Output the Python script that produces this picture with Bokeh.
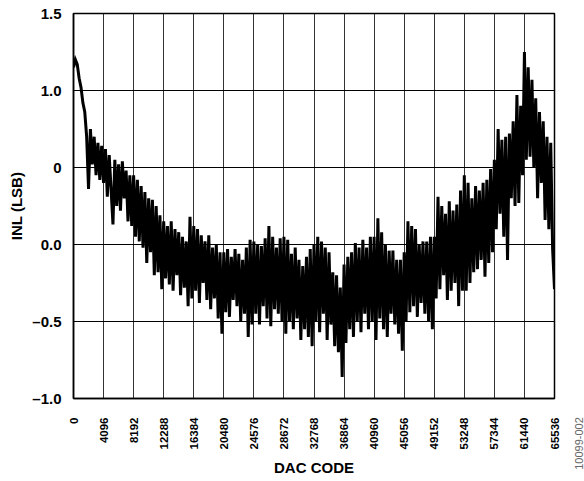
import math
from bokeh.plotting import figure
from bokeh.models import FixedTicker, Range1d, Label
from bokeh.layouts import row
from bokeh.embed import file_html
from bokeh.resources import INLINE

# DAC code step between samples and INL samples (LSB)
code_step = 256
inl = [
    # 0 .. 4096
    1.15, 1.20, 1.17, 1.08, 1.02, 0.92, 0.86, 0.70, 0.36, 0.75, 0.52, 0.70, 0.45, 0.66, 0.42, 0.64,
    # 4096 .. 8192
    0.40, 0.62, 0.31, 0.58, 0.36, 0.13, 0.55, 0.25, 0.52, 0.22, 0.54, 0.30, 0.48, 0.15, 0.45, 0.12,
    # 8192 .. 12288
    0.45, 0.05, 0.42, 0.02, 0.38, -0.02, 0.34, -0.12, 0.30, -0.05, 0.29, -0.20, 0.25, -0.18, 0.19, -0.29,
    # 12288 .. 16384
    0.15, -0.22, 0.12, -0.26, 0.15, -0.30, 0.10, -0.20, 0.08, -0.33, 0.05, -0.28, 0.02, -0.40, 0.18, -0.35,
    # 16384 .. 20480
    0.12, -0.30, 0.10, -0.38, 0.06, -0.25, 0.02, -0.36, 0.06, -0.42, -0.02, -0.35, 0.00, -0.48, -0.05, -0.58,
    # 20480 .. 24576
    -0.05, -0.44, -0.03, -0.47, -0.08, -0.36, -0.03, -0.40, -0.06, -0.50, -0.10, -0.45, -0.02, -0.60, 0.03, -0.52,
    # 24576 .. 28672
    0.02, -0.45, 0.00, -0.52, -0.01, -0.40, 0.04, -0.48, 0.12, -0.53, 0.05, -0.42, -0.02, -0.45, 0.04, -0.50,
    # 28672 .. 32768
    0.05, -0.58, 0.03, -0.50, -0.06, -0.55, -0.02, -0.48, -0.10, -0.62, -0.14, -0.55, -0.08, -0.60, -0.03, -0.66,
    # 32768 .. 36864
    0.00, -0.50, 0.05, -0.57, 0.02, -0.45, -0.02, -0.62, -0.05, -0.52, -0.18, -0.66, -0.20, -0.70, -0.28, -0.86,
    # 36864 .. 40960
    -0.13, -0.64, -0.08, -0.55, -0.05, -0.60, 0.01, -0.50, -0.02, -0.57, 0.03, -0.45, -0.02, -0.55, 0.05, -0.50,
    # 40960 .. 45056
    0.05, -0.62, 0.17, -0.48, 0.08, -0.55, 0.00, -0.60, -0.04, -0.45, -0.04, -0.52, -0.10, -0.58, -0.10, -0.69,
    # 45056 .. 49152
    -0.05, -0.50, 0.15, -0.44, 0.12, -0.40, 0.10, -0.47, 0.00, -0.38, 0.02, -0.45, 0.02, -0.50, 0.05, -0.55,
    # 49152 .. 53248
    0.05, -0.35, 0.31, -0.29, 0.25, -0.20, 0.20, -0.36, 0.28, -0.30, 0.22, -0.25, 0.26, -0.40, 0.35, -0.30,
    # 53248 .. 57344
    0.45, -0.30, 0.40, -0.25, 0.30, -0.18, 0.38, -0.16, 0.35, -0.10, 0.40, -0.21, 0.42, -0.12, 0.49, -0.05,
    # 57344 .. 61440
    0.55, 0.10, 0.75, 0.20, 0.68, 0.05, 0.70, -0.10, 0.72, 0.30, 0.80, 0.25, 0.97, 0.27, 0.90, 0.45,
    # 61440 .. 65536
    1.25, 0.55, 1.15, 0.57, 1.07, 0.50, 0.95, 0.30, 0.86, 0.40, 0.80, 0.16, 0.70, 0.10, 0.66, -0.03,
    -0.29,
]
codes = [i * code_step for i in range(len(inl))]

x_ticks = [0, 4096, 8192, 12288, 16384, 20480, 24576, 28672, 32768,
           36864, 40960, 45056, 49152, 53248, 57344, 61440, 65536]
y_ticks = [-1.0, -0.5, 0.0, 0.5, 1.0, 1.5]
y_tick_labels = ["\u20131.0", "\u20130.5", "0.0", "0", "1.0", "1.5"]

p = figure(width=562, height=481, output_backend="svg", toolbar_location=None,
           x_range=Range1d(0, 65536), y_range=Range1d(-1.0, 1.5),
           min_border_left=73, min_border_right=8, min_border_top=13,
           min_border_bottom=83)

p.line(codes, inl, line_color="black", line_width=3, line_join="miter")

p.xaxis.ticker = FixedTicker(ticks=x_ticks)
p.yaxis.ticker = FixedTicker(ticks=y_ticks)
p.yaxis.major_label_overrides = {t: s for t, s in zip(y_ticks, y_tick_labels)}

for ax in (p.xaxis[0], p.yaxis[0]):
    ax.major_tick_line_color = None
    ax.minor_tick_line_color = None
    ax.axis_line_color = "black"
    ax.axis_line_width = 1.5
    ax.major_label_text_font = "Liberation Sans"
    ax.major_label_text_font_style = "bold"
    ax.major_label_text_color = "black"
    ax.axis_label_text_font = "Liberation Sans"
    ax.axis_label_text_font_style = "bold"
    ax.axis_label_text_color = "black"
    ax.axis_label_text_font_size = "15px"

p.xaxis.major_label_text_font_size = "11.5px"
p.yaxis.major_label_text_font_size = "15px"
p.xaxis.major_label_orientation = math.pi / 2
p.xaxis.major_label_standoff = 13
p.yaxis.major_label_standoff = 6
p.xaxis.axis_label = "DAC CODE"
p.yaxis.axis_label = "INL (LSB)"
p.xaxis.axis_label_standoff = 7
p.yaxis.axis_label_standoff = 4

p.xgrid.grid_line_color = "black"
p.ygrid.grid_line_color = "black"
p.xgrid.grid_line_width = 1
p.ygrid.grid_line_width = 1
p.xgrid.grid_line_alpha = 0.8
p.ygrid.grid_line_alpha = 1.0

p.outline_line_color = "black"
p.outline_line_width = 1.5
p.background_fill_color = "white"
p.border_fill_color = "white"

# narrow strip on the right carrying the figure number
p2 = figure(width=22, height=481, output_backend="svg", toolbar_location=None,
            x_range=Range1d(0, 1), y_range=Range1d(0, 1),
            min_border=0, min_border_left=0, min_border_right=0,
            min_border_top=0, min_border_bottom=0)
p2.axis.visible = False
p2.grid.visible = False
p2.outline_line_color = None
p2.background_fill_color = "white"
p2.border_fill_color = "white"

label_y = 35
try:
    p2.frame_align = False
    p.frame_align = False
    label_y = 38
except Exception:
    label_y = 35

p2.add_layout(Label(x=16, y=label_y, x_units="screen", y_units="screen",
                    text="10099-002", angle=math.pi / 2,
                    text_align="center", text_baseline="middle",
                    text_font="Liberation Sans", text_font_size="11px",
                    text_color="#666666"))

layout = row(p, p2, spacing=0)
open("out.html", "w").write(file_html(layout, INLINE))
